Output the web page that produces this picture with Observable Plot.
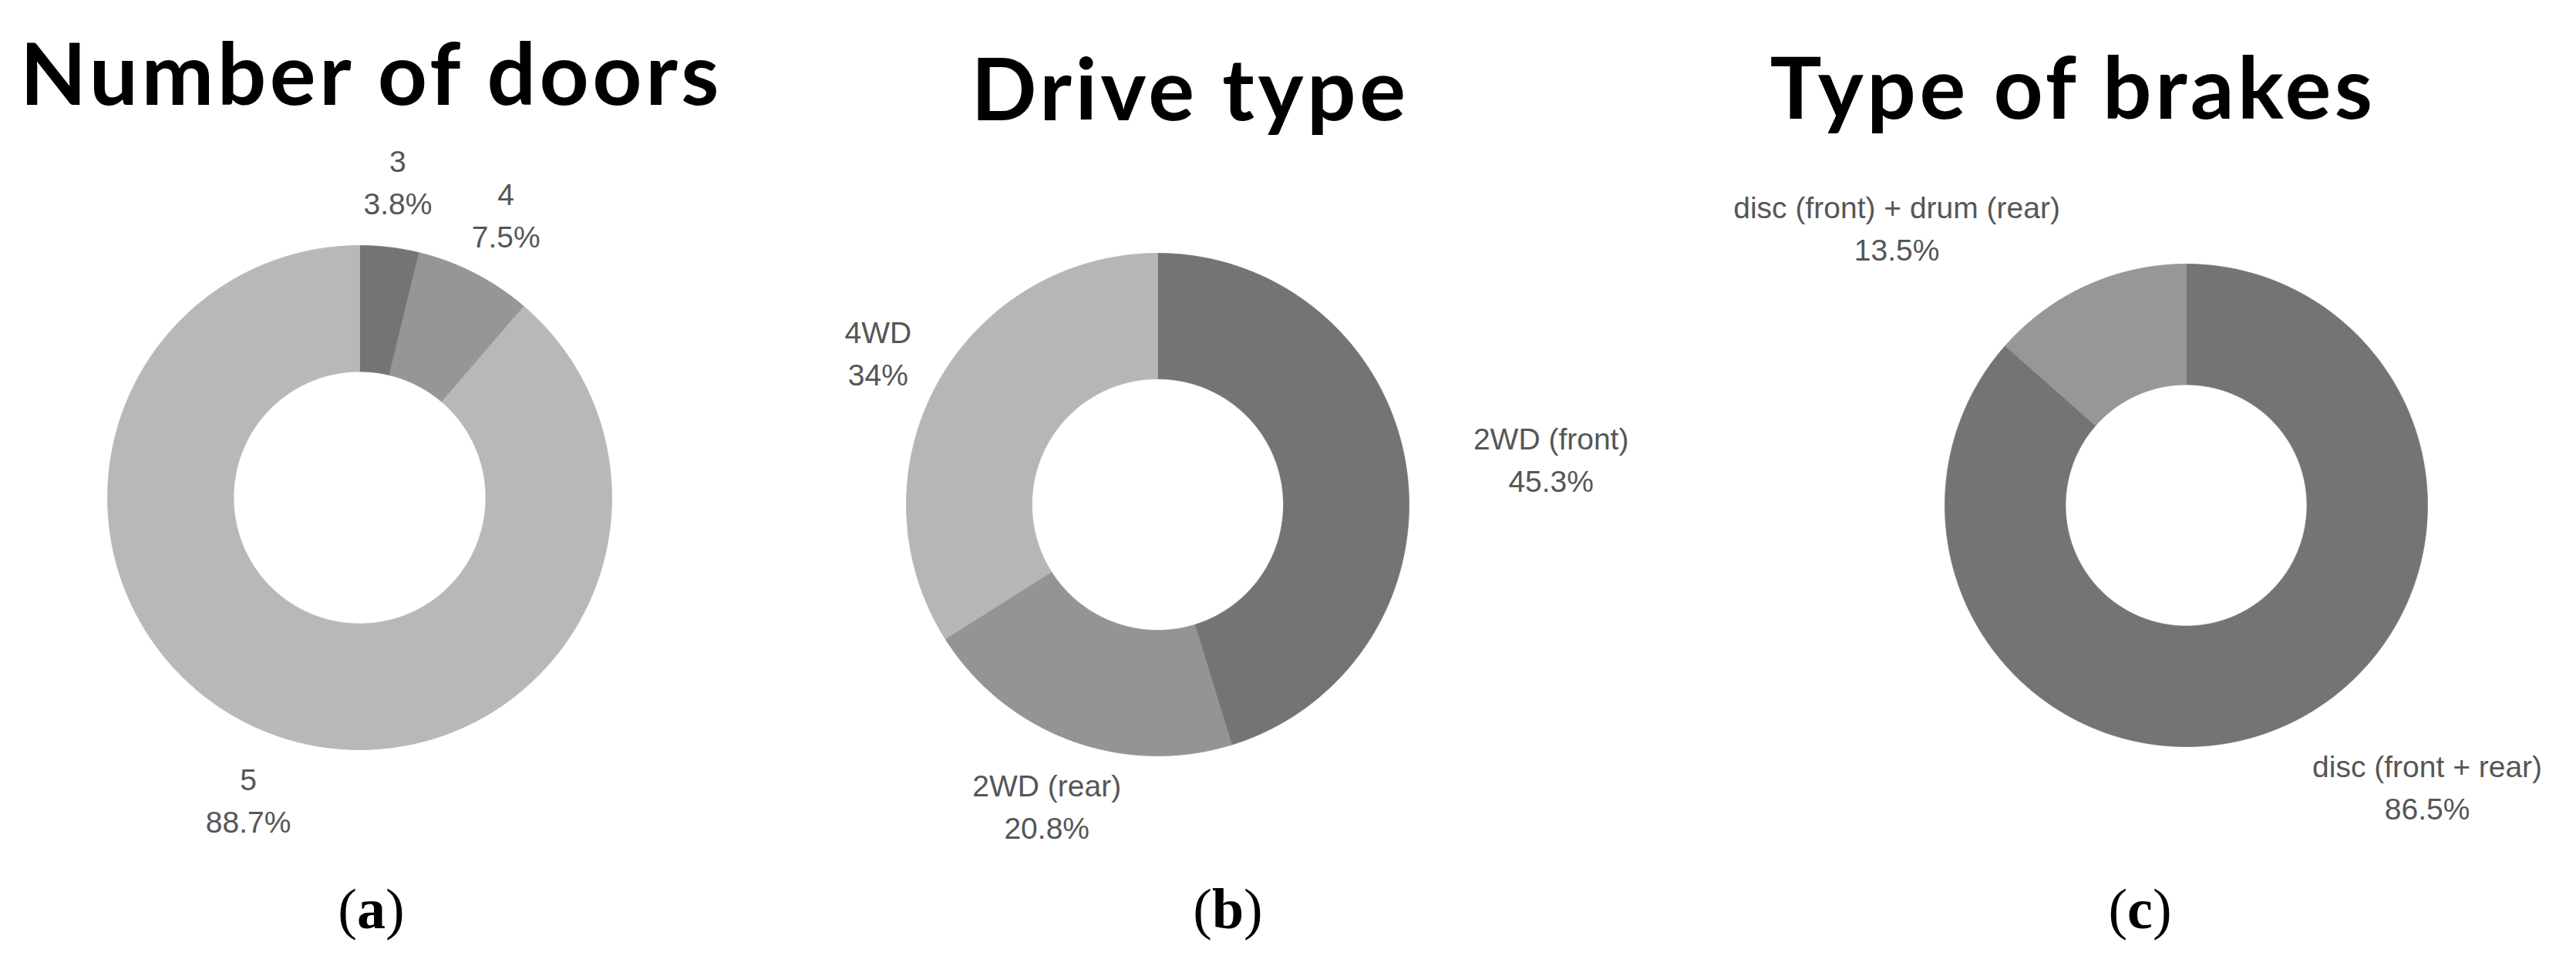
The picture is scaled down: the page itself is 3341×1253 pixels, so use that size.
<!DOCTYPE html>
<html>
<head>
<meta charset="utf-8">
<script src="https://cdn.jsdelivr.net/npm/d3@7"></script>
<script src="https://cdn.jsdelivr.net/npm/@observablehq/plot@0.6"></script>
<style>
  html, body { margin: 0; padding: 0; background: #ffffff; }
  #chart svg { display: block; }
</style>
</head>
<body>
<div id="chart"></div>
<script>
// ---------------- DATA ----------------
const doorsCategories = ["3", "4", "5"];
const doorsValues = [3.8, 7.5, 88.7];

const driveCategories = ["2WD (front)", "2WD (rear)", "4WD"];
const driveValues = [45.3, 20.8, 34];

const brakesCategories = ["disc (front + rear)", "disc (front) + drum (rear)"];
const brakesValues = [86.5, 13.5];

const chartTitles = ["Number of doors", "Drive type", "Type of brakes"];
const panelTags = ["a", "b", "c"];

// ---------------- LAYOUT / STYLE ----------------
const W = 3341, H = 1253;
const innerRatio = 0.5;
const labelRadius = 1.27;
const labelFont = "Liberation Sans";
const labelSize = 39;
const labelLineHeight = 1.41;

const panels = [
  {categories: doorsCategories, values: doorsValues, cx: 466, cy: 645, r: 327,
   titleX: 481, titleY: 135, tagX: 481,
   anchors: ["middle", "middle", "middle"],
   colors: ["#747474", "#969696", "#b8b8b8"]},
  {categories: driveCategories, values: driveValues, cx: 1501, cy: 654, r: 326,
   titleX: 1543, titleY: 155, tagX: 1592,
   anchors: ["start", "middle", "middle"],
   colors: ["#747474", "#949494", "#b6b6b6"]},
  {categories: brakesCategories, values: brakesValues, cx: 2835, cy: 655, r: 313,
   titleX: 2688, titleY: 153, tagX: 2775,
   anchors: ["start", "end"],
   colors: ["#747474", "#979797"]}
];
const tagY = 1203;

// ---------------- BUILD ROWS ----------------
const ctx = document.createElement("canvas").getContext("2d");
ctx.font = `${labelSize}px "${labelFont}"`;

const pie = d3.pie().sort(null).startAngle(0).endAngle(2 * Math.PI);
const slicePts = [];
const labelRows = [];

panels.forEach((p, pi) => {
  const arcs = pie(p.values);
  arcs.forEach((a, i) => {
    const key = pi + "-" + i;
    const color = p.colors[i];
    const n = Math.max(2, Math.ceil((a.endAngle - a.startAngle) / (Math.PI / 720)));
    const r0 = p.r * innerRatio;
    for (let k = 0; k <= n; k++) {
      const t = a.startAngle + (a.endAngle - a.startAngle) * k / n;
      slicePts.push({key, color, x: p.cx + p.r * Math.sin(t), y: p.cy - p.r * Math.cos(t)});
    }
    for (let k = n; k >= 0; k--) {
      const t = a.startAngle + (a.endAngle - a.startAngle) * k / n;
      slicePts.push({key, color, x: p.cx + r0 * Math.sin(t), y: p.cy - r0 * Math.cos(t)});
    }
    const mid = (a.startAngle + a.endAngle) / 2;
    const px = p.cx + labelRadius * p.r * Math.sin(mid);
    const py = p.cy - labelRadius * p.r * Math.cos(mid);
    const line1 = p.categories[i];
    const line2 = `${p.values[i]}%`;
    const w = Math.max(ctx.measureText(line1).width, ctx.measureText(line2).width);
    const anchor = p.anchors[i];
    const x = anchor === "start" ? px + w / 2 : anchor === "end" ? px - w / 2 : px;
    labelRows.push({x, y: py, text: line1 + "\n" + line2});
  });
});

const titleRows = panels.map((p, i) => ({x: p.titleX, y: p.titleY, text: chartTitles[i]}));
const tagTexts = panelTags.map(t => `(${t})`);
const tagRows = panels.map((p, i) => ({x: p.tagX, y: tagY, text: tagTexts[i]}));

// ---------------- PLOT ----------------
const plot = Plot.plot({
  width: W,
  height: H,
  margin: 0,
  x: {domain: [0, W], range: [0, W], axis: null},
  y: {domain: [0, H], range: [0, H], axis: null},
  color: {type: "identity"},
  style: {background: "#ffffff", overflow: "visible"},
  marks: [
    Plot.line(slicePts, {x: "x", y: "y", z: "key", fill: "color", stroke: "color", strokeWidth: 0.8, curve: "linear-closed"}),
    Plot.text(labelRows, {x: "x", y: "y", text: "text", textAnchor: "middle", lineAnchor: "middle",
      lineHeight: labelLineHeight, fontSize: labelSize, fontFamily: labelFont, fill: "#565656"}),
    Plot.text(titleRows, {x: "x", y: "y", text: "text", textAnchor: "middle", lineAnchor: "bottom",
      fontSize: 112, fontWeight: 700, fontFamily: "Lato", fill: "#000000"}),
    Plot.text(tagRows, {x: "x", y: "y", text: "text", textAnchor: "middle", lineAnchor: "bottom",
      fontSize: 74, fontFamily: "Liberation Serif", fill: "#000000"})
  ]
});

// Titles: slightly wider letter spacing, like the reference lettering
d3.select(plot).selectAll("text")
  .filter(function () { return chartTitles.includes(this.textContent); })
  .style("letter-spacing", "4.5px");

// Panel tags: upright parentheses, bold letter
d3.select(plot).selectAll("text")
  .filter(function () { return tagTexts.includes(this.textContent); })
  .each(function () {
    const t = d3.select(this);
    const s = this.textContent;
    t.text(null);
    t.append("tspan").text("(");
    t.append("tspan").attr("font-weight", "bold").text(s.slice(1, -1));
    t.append("tspan").text(")");
  });

document.getElementById("chart").appendChild(plot);
</script>
</body>
</html>
